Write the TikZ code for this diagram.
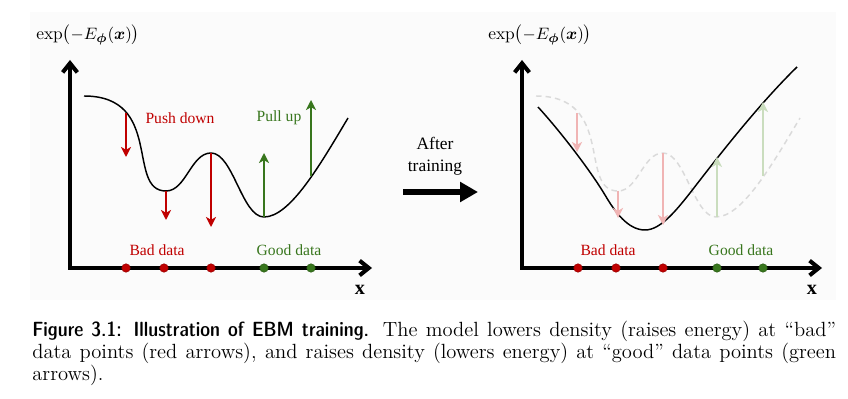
\documentclass[tikz,border=0pt]{standalone}
\usepackage{fontspec}
\usepackage{amsmath}
\newfontfamily\figfont{Liberation Serif}
\usepackage{tikz}
\usetikzlibrary{
    positioning,
    arrows.meta
}

\definecolor{pushred}{RGB}{192,0,0}
\definecolor{pullgreen}{RGB}{56,118,29}
\definecolor{pushfaded}{RGB}{240,180,180}
\definecolor{pullfaded}{RGB}{202,221,190}
\definecolor{oldgray}{RGB}{218,218,218}
\definecolor{panelgray}{RGB}{251,251,251}

\begin{document}
\begin{tikzpicture}[
    x=0.545pt, y=-0.545pt,
    axisline/.style={
        line width=2.2pt,
        {Straight Barb[length=5pt,width=8pt]}-{Straight Barb[length=5pt,width=8pt]}
    },
    energy/.style={line width=0.8pt},
    oldenergy/.style={oldgray, line width=0.8pt, dash pattern=on 3pt off 2.2pt},
    push/.style={pushred, line width=0.9pt, -{Stealth[length=5.5pt,width=5.5pt,inset=1.6pt]}},
    pull/.style={pullgreen, line width=0.9pt, -{Stealth[length=5.5pt,width=5.5pt,inset=1.6pt]}},
    fadepush/.style={push, pushfaded},
    fadepull/.style={pull, pullfaded},
    dot/.style={circle, inner sep=0pt, minimum size=4.6pt, line width=0.3pt},
    baddot/.style={dot, fill=pushred, draw=pushred!80!black},
    gooddot/.style={dot, fill=pullgreen, draw=pullgreen!80!black},
    plotlabel/.style={font=\figfont\fontsize{8.5}{10}\selectfont},
    ylabel/.style={font=\figfont\fontsize{9.5}{11}\selectfont},
    xlabel/.style={font=\figfont\fontsize{11}{12}\selectfont\bfseries},
    train/.style={line width=3.5pt, -{Triangle[length=9.8pt,width=10.5pt]}}
]

\useasboundingbox (0,0) rectangle (848,399);
\fill[panelgray] (30,12) rectangle (836,300);

% before training
\coordinate (ytip) at (70,60);
\coordinate (xtip) at (372,268);
\draw[axisline] (ytip) |- (xtip);
\node[ylabel] (ytext) at (88,35) {$\exp\bigl(-E_{\boldsymbol{\phi}}(\boldsymbol{x})\bigr)$};
\node[xlabel] (xtext) at (360,290) {x};

\draw[energy] (84,96) .. controls (164,96) and (126,191) .. (166,191)
    .. controls (186,191) and (191,153) .. (211,153)
    .. controls (233,153) and (242,217) .. (264,217)
    .. controls (290,217) and (320,165) .. (348,118);

\coordinate (push1s) at (126,113);
\coordinate (push1e) at (126,157);
\coordinate (push2s) at (166,191);
\coordinate (push2e) at (166,220);
\coordinate (push3s) at (211,153);
\coordinate (push3e) at (211,227);
\coordinate (pull1s) at (264,217);
\coordinate (pull1e) at (264,153);
\coordinate (pull2s) at (311,176);
\coordinate (pull2e) at (311,100);
\draw[push] (push1s) -- (push1e);
\draw[push] (push2s) -- (push2e);
\draw[push] (push3s) -- (push3e);
\draw[pull] (pull1s) -- (pull1e);
\draw[pull] (pull2s) -- (pull2e);

\node[plotlabel, pushred] (pushtext) at (180,118) {Push down};
\node[plotlabel, pullgreen] (pulltext) at (279,118) {Pull up};
\node[plotlabel, pushred] (badtext) at (157,250) {Bad data};
\node[plotlabel, pullgreen] (goodtext) at (289,250) {Good data};

\node[baddot] (bad1) at (126,268) {};
\node[baddot] (bad2) at (164,268) {};
\node[baddot] (bad3) at (211,268) {};
\node[gooddot] (good1) at (264,268) {};
\node[gooddot] (good2) at (311,268) {};

% training arrow
\coordinate (trainfrom) at (403,192);
\coordinate (trainto) at (478,192);
\draw[train] (trainfrom) -- (trainto);
\node[font=\figfont\fontsize{9.5}{12}\selectfont, align=center] (traintext) at (435,156) {After\\training};

% after training
\coordinate (newytip) at (522,60);
\coordinate (newxtip) at (822,268);
\draw[axisline] (newytip) |- (newxtip);
\node[ylabel] (newytext) at (540,35) {$\exp\bigl(-E_{\boldsymbol{\phi}}(\boldsymbol{x})\bigr)$};
\node[xlabel] (newxtext) at (812,290) {x};

\draw[oldenergy, shift={(452,0)}] (84,96) .. controls (164,96) and (126,191) .. (166,191)
    .. controls (186,191) and (191,153) .. (211,153)
    .. controls (233,153) and (242,217) .. (264,217)
    .. controls (290,217) and (320,165) .. (348,118);
\draw[energy] (538,107) .. controls (560,131) and (590,170) .. (605,195)
    .. controls (615,212) and (628,230) .. (645,230)
    .. controls (660,230) and (675,212) .. (690,193)
    .. controls (720,154) and (760,103) .. (797,67);

\coordinate (fpush1s) at (577,113);
\coordinate (fpush1e) at (577,152);
\coordinate (fpush2s) at (618,191);
\coordinate (fpush2e) at (618,218);
\coordinate (fpush3s) at (663,153);
\coordinate (fpush3e) at (663,225);
\coordinate (fpull1s) at (717,217);
\coordinate (fpull1e) at (717,157);
\coordinate (fpull2s) at (763,176);
\coordinate (fpull2e) at (763,102);
\draw[fadepush] (fpush1s) -- (fpush1e);
\draw[fadepush] (fpush2s) -- (fpush2e);
\draw[fadepush] (fpush3s) -- (fpush3e);
\draw[fadepull] (fpull1s) -- (fpull1e);
\draw[fadepull] (fpull2s) -- (fpull2e);

\node[plotlabel, pushred] (newbadtext) at (608,250) {Bad data};
\node[plotlabel, pullgreen] (newgoodtext) at (741,250) {Good data};

\node[baddot] (newbad1) at (578,268) {};
\node[baddot] (newbad2) at (616,268) {};
\node[baddot] (newbad3) at (663,268) {};
\node[gooddot] (newgood1) at (717,268) {};
\node[gooddot] (newgood2) at (763,268) {};

% caption
\node[anchor=north west, inner sep=0pt, text width=438pt, align=justify,
    font=\fontsize{11.2}{12}\selectfont] (caption) at (32,321)
    {{\sffamily\fontseries{sbc}\selectfont Figure 3.1: Illustration of EBM training.}
    The model lowers density (raises energy) at ``bad''\linebreak
    data points (red arrows), and raises density (lowers energy) at ``good'' data points (green\linebreak
    arrows).};

\end{tikzpicture}
\end{document}
